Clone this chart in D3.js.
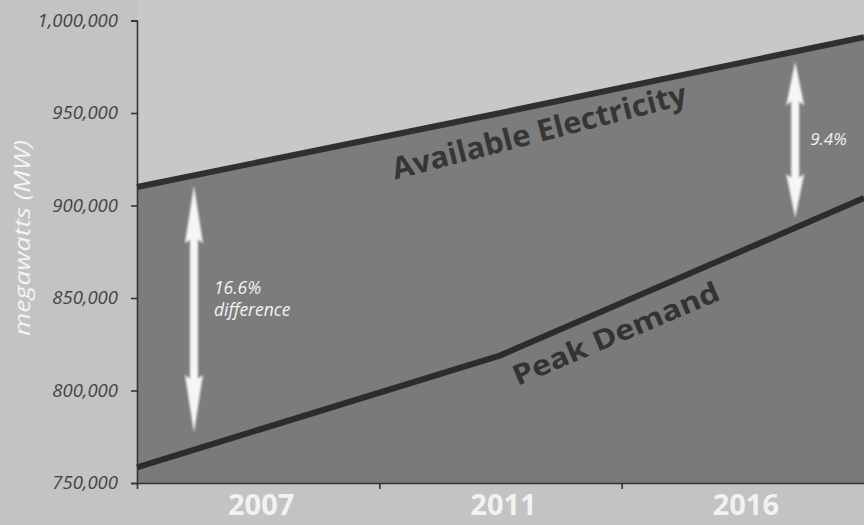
<!DOCTYPE html>
<html>
<head>
<meta charset="utf-8">
<script src="https://cdn.jsdelivr.net/npm/d3@7"></script>
<style>
  html, body { margin: 0; padding: 0; background: #c3c3c3; }
  svg { display: block; }
</style>
</head>
<body>
<div id="chart"></div>
<script>
// ---- data ----
const periods = ["2007", "2011", "2016"];           // x categories (bands)
const samplePos = [0, 1.5, 3];                        // position along the period axis (band units)
const availableMW = [910000, 950000, 991000];         // Available Electricity
const peakDemandMW = [758500, 819000, 904000];        // Peak Demand
const yTicks = [750000, 800000, 850000, 900000, 950000, 1000000];
const gapLabels = [
  { pos: 0.235, lines: ["16.6%", "difference"] },
  { pos: 2.716, lines: ["9.4%"] }
];

// ---- layout ----
const W = 864, H = 525;
const FONT = "'Open Sans', 'Liberation Sans', sans-serif";
const svg = d3.select("#chart").append("svg").attr("width", W).attr("height", H);

const x = d3.scaleLinear().domain([0, periods.length]).range([137, 864]);
const y = d3.scaleLinear().domain([750000, 1000000]).range([483, 20.5]);

const pts = samplePos.map((p, i) => ({ p, a: availableMW[i], d: peakDemandMW[i] }));

// background above available line
svg.append("rect").attr("x", x(0)).attr("y", 0).attr("width", x(3) - x(0))
  .attr("height", y(750000)).attr("fill", "#c8c8c8");

// area below peak demand
svg.append("path").datum(pts)
  .attr("d", d3.area().x(d => x(d.p)).y0(y(750000)).y1(d => y(d.d)))
  .attr("fill", "#7a7a7a");

// area between
svg.append("path").datum(pts)
  .attr("d", d3.area().x(d => x(d.p)).y0(d => y(d.d)).y1(d => y(d.a)))
  .attr("fill", "#7c7c7c");

// lines
const lineA = d3.line().x(d => x(d.p)).y(d => y(d.a));
const lineD = d3.line().x(d => x(d.p)).y(d => y(d.d));
svg.append("path").datum(pts).attr("d", lineA).attr("fill", "none")
  .attr("stroke", "#303030").attr("stroke-width", 6);
svg.append("path").datum(pts).attr("d", lineD).attr("fill", "none")
  .attr("stroke", "#2c2c2c").attr("stroke-width", 6);

// interpolation helper on the data (for placing annotations)
const interp = (arr, p) => {
  for (let i = 0; i < samplePos.length - 1; i++) {
    if (p <= samplePos[i + 1]) {
      const t = (p - samplePos[i]) / (samplePos[i + 1] - samplePos[i]);
      return arr[i] + t * (arr[i + 1] - arr[i]);
    }
  }
  return arr[arr.length - 1];
};

// axes
const yAxis = d3.axisLeft(y).tickValues(yTicks).tickFormat(d3.format(",")).tickSize(6).tickPadding(13);
const gy = svg.append("g").attr("transform", `translate(${x(0)},0)`).call(yAxis);
gy.select(".domain").attr("stroke", "#333").attr("stroke-width", 1.6);
gy.selectAll(".tick line").attr("stroke", "#333").attr("stroke-width", 1.6);
gy.selectAll(".tick text").attr("fill", "#444444")
  .style("font-family", FONT)
  .style("font-style", "italic").style("font-size", "18.5px");

const xAxis = d3.axisBottom(x).tickValues([0, 1, 2]).tickFormat("").tickSize(6).tickSizeOuter(0);
const gx = svg.append("g").attr("transform", `translate(0,${y(750000)})`).call(xAxis);
gx.select(".domain").attr("stroke", "#333").attr("stroke-width", 1.6);
gx.selectAll(".tick line").attr("stroke", "#333").attr("stroke-width", 1.6);

// x category labels
svg.selectAll(".xlab").data(periods).enter().append("text")
  .attr("x", (d, i) => x(i + 0.5) + 3).attr("y", 515)
  .attr("text-anchor", "middle").attr("fill", "#f2f2f2")
  .style("font-family", FONT)
  .style("font-weight", "bold").style("font-size", "29px")
  .text(d => d);

// y axis title
svg.append("text")
  .attr("transform", "translate(30,238) rotate(-90)")
  .attr("text-anchor", "middle").attr("fill", "#f4f4f4")
  .attr("textLength", 196).attr("lengthAdjust", "spacingAndGlyphs")
  .style("font-family", FONT)
  .style("font-style", "italic").style("font-size", "22px")
  .text("megawatts (MW)");

// series labels along lines
svg.append("text")
  .attr("transform", `translate(${x(1.065)},${y(interp(availableMW, 1.065)) + 45}) rotate(-14.5)`)
  .attr("fill", "#363636").attr("textLength", 303).attr("lengthAdjust", "spacingAndGlyphs")
  .style("font-family", FONT)
  .style("font-weight", "bold").style("font-size", "30px")
  .text("Available Electricity");

svg.append("text")
  .attr("transform", `translate(${x(1.57)},${y(interp(peakDemandMW, 1.57)) + 38}) rotate(-23)`)
  .attr("fill", "#333333").attr("textLength", 222).attr("lengthAdjust", "spacingAndGlyphs")
  .style("font-family", FONT)
  .style("font-weight", "bold").style("font-size", "28px")
  .text("Peak Demand");

// double arrows
const glow = svg.append("defs").append("filter").attr("id", "glow")
  .attr("x", "-50%").attr("y", "-20%").attr("width", "200%").attr("height", "140%");
glow.append("feGaussianBlur").attr("stdDeviation", 0.8);

function dblArrow(cx, yTop, yBot, headLen, headW, shaftW) {
  const hw = headW / 2, sw = shaftW / 2;
  return `M${cx},${yTop} L${cx + hw},${yTop + headLen} L${cx + sw},${yTop + headLen - 4}
          L${cx + sw},${yBot - headLen + 4} L${cx + hw},${yBot - headLen} L${cx},${yBot}
          L${cx - hw},${yBot - headLen} L${cx - sw},${yBot - headLen + 4}
          L${cx - sw},${yTop + headLen - 4} L${cx - hw},${yTop + headLen} Z`;
}

gapLabels.forEach((g, i) => {
  const cx = x(g.pos);
  const yTop = y(interp(availableMW, g.pos)) + 10;
  const yBot = y(interp(peakDemandMW, g.pos)) - (i === 0 ? 17 : 10);
  const headLen = i === 0 ? 58 : 44;
  svg.append("path").attr("d", dblArrow(cx, yTop, yBot, headLen, 18, 8))
    .attr("fill", "#f6f6f6").attr("filter", "url(#glow)");
  const midY = (yTop + yBot) / 2;
  const t = svg.append("text").attr("fill", "#f2f2f2")
    .style("font-family", FONT)
    .style("font-style", "italic").style("font-size", i === 0 ? "17.5px" : "17px");
  g.lines.forEach((ln, j) => {
    t.append("tspan").attr("x", cx + (i === 0 ? 20 : 15))
      .attr("y", midY + (i === 0 ? -15 : 5) + j * 22).text(ln);
  });
});
</script>
</body>
</html>
